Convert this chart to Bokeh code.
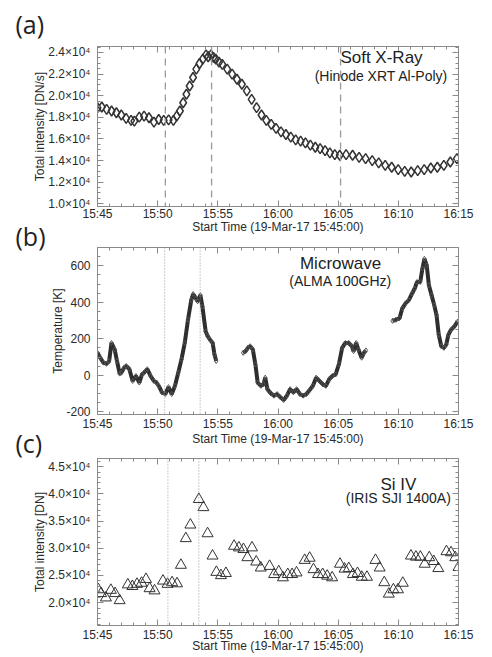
from bokeh.plotting import figure
from bokeh.layouts import column
from bokeh.models import (Range1d, FixedTicker, LinearAxis, Label, Span, Title,
                          CustomLabelingPolicy)
from bokeh.embed import file_html
from bokeh.resources import INLINE

FONT = "Liberation Sans"
PFONT = "Open Sans"

# ---------------- shared x axis (minutes after 15:45:00) ----------------
x_tick_pos = [0, 5, 10, 15, 20, 25, 30]
x_tick_labels = ["15:45", "15:50", "15:55", "16:00", "16:05", "16:10", "16:15"]
x_minor_pos = list(range(0, 31))
x_label = "Start Time (19-Mar-17 15:45:00)"

# ---------------- (a) Soft X-ray, Hinode XRT Al-Poly [DN/s] ----------------
xrt_t = [0.0, 0.36, 0.76, 1.17, 1.57, 1.98, 2.38, 2.79, 3.06, 3.47, 3.87, 4.28,
         4.69, 5.09, 5.5, 5.91, 6.31, 6.58, 6.85, 7.12, 7.39, 7.66, 7.94, 8.21,
         8.48, 8.75, 9.02, 9.2, 9.43, 9.63, 9.83, 10.1, 10.37, 10.78, 11.19, 11.59,
         12.0, 12.41, 12.81, 13.22, 13.63, 14.03, 14.44, 14.84, 15.25, 15.66,
         16.06, 16.47, 16.88, 17.28, 17.69, 18.1, 18.5, 18.91, 19.31, 19.72,
         20.13, 20.66, 21.2, 21.74, 22.28, 22.83, 23.37, 23.91, 24.45, 24.99,
         25.53, 26.07, 26.61, 27.15, 27.7, 28.24, 28.78, 29.32, 29.86]
xrt_v = [18890, 18950, 18730, 18580, 18420, 18210, 17900, 17710, 17650, 18020,
         18110, 17960, 17560, 17800, 17710, 17770, 17710, 18110, 18580, 19350,
         20130, 20900, 21680, 22450, 22980, 23380, 23780, 23600, 23780, 23550,
         23380, 23100, 22900, 22450, 21990, 21520, 21060, 20440, 19660, 18890,
         18210, 17710, 17340, 16970, 16660, 16410, 16160, 15920, 15790, 15640,
         15420, 15230, 15110, 14920, 14710, 14550, 14490, 14550, 14490, 14300,
         14180, 14000, 13780, 13560, 13380, 13160, 13000, 12940, 13070, 13160,
         13310, 13380, 13560, 13870, 14180]
xrt_marks = [5.64, 9.48, 20.2]
xrt_ticks = [10000, 12000, 14000, 16000, 18000, 20000, 22000, 24000]
xrt_tick_labels = ["1.0×10⁴", "1.2×10⁴", "1.4×10⁴", "1.6×10⁴",
                   "1.8×10⁴", "2.0×10⁴", "2.2×10⁴", "2.4×10⁴"]
xrt_minor = list(range(9500, 25000, 500))
xrt_tag = "(a)"
xrt_title = "Soft X-Ray"
xrt_sub = "(Hinode XRT Al-Poly)"
xrt_ylabel = "Total intensity [DN/s]"

# ---------------- (b) Microwave, ALMA 100 GHz [K] ----------------
alma_t1 = [0.0, 0.22, 0.49, 0.76, 0.97, 1.16, 1.43, 1.62, 1.84, 1.98, 2.2, 2.38,
           2.65, 2.92, 3.2, 3.47, 3.7, 3.87, 4.14, 4.41, 4.68, 4.9, 5.09, 5.36,
           5.63, 5.9, 6.17, 6.44, 6.71, 6.98, 7.25, 7.52, 7.79, 7.95, 8.18,
           8.32, 8.55, 8.72, 8.99, 9.17, 9.35, 9.57, 9.72, 9.87]
alma_v1 = [123, 96, 69, 63, 78, 177, 141, 78, 9, 14, 40, 51,
           33, -31, -4, -40, 5, 14, 33, -4, -31, -40, -58, -94,
           -103, -65, -103, -58, 14, 87, 177, 304, 412, 445, 421,
           405, 439, 376, 240, 213, 195, 177, 114, 78]
alma_t2 = [12.1, 12.31, 12.5, 12.69, 12.91, 13.12, 13.31, 13.58, 13.8, 13.94,
           14.12, 14.39, 14.66, 14.93, 15.2, 15.47, 15.74, 16.01, 16.28, 16.55,
           16.82, 17.09, 17.36, 17.63, 17.9, 18.17, 18.44, 18.71, 18.98, 19.25,
           19.52, 19.79, 20.06, 20.33, 20.6, 20.87, 21.14, 21.28, 21.5, 21.68,
           21.95, 22.14, 22.31]
alma_v2 = [123, 132, 150, 159, 141, 60, -40, -58, -49, -13,
           -76, -98, -112, -103, -121, -136, -112, -76, -94, -76,
           -103, -112, -103, -81, -58, -13, -31, -49, -58, -22,
           -4, 5, 60, 150, 177, 177, 159, 132, 177, 141,
           96, 123, 136]
alma_t3 = [24.52, 24.8, 25.1, 25.33, 25.6, 25.87, 26.14, 26.36, 26.55, 26.82,
           27.0, 27.17, 27.36, 27.54, 27.76, 27.98, 28.17, 28.36, 28.57, 28.79,
           28.98, 29.16, 29.38, 29.65, 29.92]
alma_v3 = [298, 304, 313, 367, 394, 412, 448, 475, 511, 511,
           584, 638, 602, 493, 439, 385, 331, 222, 159, 150,
           168, 222, 249, 267, 294]
alma_marks = [5.58, 8.53]
alma_ticks = [-200, 0, 200, 400, 600]
alma_tick_labels = ["-200", "0", "200", "400", "600"]
alma_minor = list(range(-200, 701, 50))
alma_tag = "(b)"
alma_title = "Microwave"
alma_sub = "(ALMA 100GHz)"
alma_ylabel = "Temperature [K]"

# ---------------- (c) Si IV, IRIS SJI 1400A [DN] ----------------
iris_t = [0.08, 0.30, 0.70, 1.11, 1.46, 1.84,
          2.52, 2.90, 3.28, 3.66, 4.03, 4.33, 4.74,
          5.44, 5.82, 6.20, 6.61, 6.93, 7.34, 7.72,
          8.42, 8.80, 9.15, 9.56, 9.88, 10.26, 10.67,
          11.35, 11.75, 12.13, 12.46, 12.84, 13.19, 13.57,
          14.30, 14.68, 15.06, 15.41, 15.81, 16.17, 16.54,
          17.22, 17.63, 17.95, 18.33, 18.71, 19.09, 19.50,
          20.15, 20.53, 20.88, 21.23, 21.61, 21.96, 22.39,
          23.10, 23.45, 23.83, 24.21, 24.59, 24.97, 25.37,
          26.05, 26.46, 26.83, 27.19, 27.57, 27.94, 28.32,
          29.00, 29.38, 29.73, 30.0]
iris_v = [22400, 21700, 20900, 22300, 21700, 20400,
          23300, 23000, 23400, 23600, 24300, 22600, 22200,
          24000, 23400, 23700, 23500, 26900, 31800, 34300,
          39000, 37500, 32700, 28600, 25600, 25000, 25400,
          30400, 30100, 29800, 28300, 30100, 27500, 26400,
          26700, 25200, 25700, 24600, 25200, 25200, 25500,
          27800, 28200, 26100, 25200, 25200, 24900, 24600,
          27100, 26200, 26300, 25200, 25400, 24700, 24700,
          27800, 26400, 23700, 21600, 22400, 22400, 23600,
          28600, 28400, 28400, 27100, 28300, 27600, 26300,
          29400, 29200, 28300, 26500]
iris_marks = [5.85, 8.42]
iris_ticks = [20000, 25000, 30000, 35000, 40000, 45000]
iris_tick_labels = ["2.0×10⁴", "2.5×10⁴", "3.0×10⁴", "3.5×10⁴", "4.0×10⁴", "4.5×10⁴"]
iris_minor = list(range(16000, 46001, 1000))
iris_tag = "(c)"
iris_title = "Si IV"
iris_sub = "(IRIS SJI 1400A)"
iris_ylabel = "Total intensity [DN]"

AX = "#8a8a8a"
TXT = "#2a2a2a"
NO_LABELS = "for (const i of indices) { indices.unset(i) }\nreturn indices"


def make_panel(height, ylo, yhi, border_top, border_bottom, xl_standoff,
               xlab_standoff, yticks, ylabels, yminor, ylabel, shift,
               tag, tag_standoff):
    p = figure(width=492, height=height, output_backend="svg",
               toolbar_location=None, title=None,
               x_range=Range1d(0, 30), y_range=Range1d(ylo, yhi),
               min_border_left=97, min_border_right=25,
               min_border_top=border_top, min_border_bottom=border_bottom,
               margin=(-shift, 0, 0, 0))
    p.title = Title(text=tag, align="left", offset=-82, text_font=PFONT,
                    text_font_size="25px", text_font_style="normal",
                    text_color="#222", standoff=tag_standoff)
    p.xgrid.visible = False
    p.ygrid.visible = False
    p.outline_line_color = AX
    p.background_fill_color = "white"
    p.border_fill_color = None if shift else "white"

    xt = FixedTicker(ticks=x_tick_pos, minor_ticks=x_minor_pos)
    yt = FixedTicker(ticks=yticks, minor_ticks=yminor)
    xa = p.xaxis[0]
    ya = p.yaxis[0]
    xa.ticker = xt
    ya.ticker = yt
    xa.major_label_overrides = dict(zip(x_tick_pos, x_tick_labels))
    ya.major_label_overrides = dict(zip(yticks, ylabels))
    xa.axis_label = x_label
    ya.axis_label = ylabel
    top = LinearAxis(ticker=xt, major_label_standoff=0,
                     major_label_policy=CustomLabelingPolicy(code=NO_LABELS))
    right = LinearAxis(ticker=yt, major_label_standoff=0,
                       major_label_policy=CustomLabelingPolicy(code=NO_LABELS))
    p.add_layout(top, "above")
    p.add_layout(right, "right")
    for ax in (xa, ya, top, right):
        ax.major_tick_in = 6
        ax.major_tick_out = 0
        ax.minor_tick_in = 3
        ax.minor_tick_out = 0
        ax.axis_line_color = AX
        ax.major_tick_line_color = AX
        ax.minor_tick_line_color = AX
    for ax in (xa, ya):
        ax.major_label_text_font = FONT
        ax.major_label_text_font_size = "12px"
        ax.major_label_text_color = TXT
        ax.axis_label_text_font = FONT
        ax.axis_label_text_font_size = "12px"
        ax.axis_label_text_font_style = "normal"
        ax.axis_label_text_color = TXT
    xa.major_label_standoff = xl_standoff
    xa.axis_label_standoff = xlab_standoff
    ya.major_label_standoff = 7
    ya.axis_label_standoff = -2
    return p


def add_titles(p, x, y1, y2, t1, t2):
    p.add_layout(Label(x=x, y=y1, text=t1, text_font=FONT, text_font_size="17px",
                       text_color="#222", text_align="center",
                       text_baseline="middle"))
    p.add_layout(Label(x=x, y=y2, text=t2, text_font=FONT, text_font_size="14px",
                       text_color="#222", text_align="center",
                       text_baseline="middle"))


# ---- panel (a)
pa = make_panel(236, 9750, 24550, 46, 30, 0, -4, xrt_ticks, xrt_tick_labels,
                xrt_minor, xrt_ylabel, 0, xrt_tag, -10)
for m in xrt_marks:
    pa.add_layout(Span(location=m, dimension="height", line_color="#9a9a9a",
                       line_dash="7 5", line_width=1.3))
pa.scatter(xrt_t, xrt_v, marker="diamond", size=10, fill_color=None,
           line_color="#333333", line_width=1.5)
add_titles(pa, 23.6, 23500, 21850, xrt_title, xrt_sub)

# ---- panel (b)
pb = make_panel(228, -215, 700, 27, 34, 2, -2, alma_ticks, alma_tick_labels,
                alma_minor, alma_ylabel, 16, alma_tag, -32)
for m in alma_marks:
    pb.add_layout(Span(location=m, dimension="height", line_color="#9a9a9a",
                       line_dash="1 2", line_width=1))
for tt, vv in ((alma_t1, alma_v1), (alma_t2, alma_v2), (alma_t3, alma_v3)):
    pb.line(tt, vv, line_width=4, line_color="#2e2e2e")
    pb.scatter(tt, vv, marker="diamond", size=5, fill_color=None,
               line_color="#555555", line_width=1)
add_titles(pb, 20.2, 613, 515, alma_title, alma_sub)

# ---- panel (c)
pc = make_panel(230, 15800, 46500, 32, 31, 2, -6, iris_ticks, iris_tick_labels,
                iris_minor, iris_ylabel, 22, iris_tag, -24)
for m in iris_marks:
    pc.add_layout(Span(location=m, dimension="height", line_color="#9a9a9a",
                       line_dash="1 2", line_width=1))
pc.scatter(iris_t, iris_v, marker="triangle", size=11, fill_color=None,
           line_color="#333333", line_width=1)
add_titles(pc, 25.0, 41700, 39200, iris_title, iris_sub)

layout = column(pa, pb, pc, spacing=0)
open("out.html", "w").write(file_html(layout, INLINE))
